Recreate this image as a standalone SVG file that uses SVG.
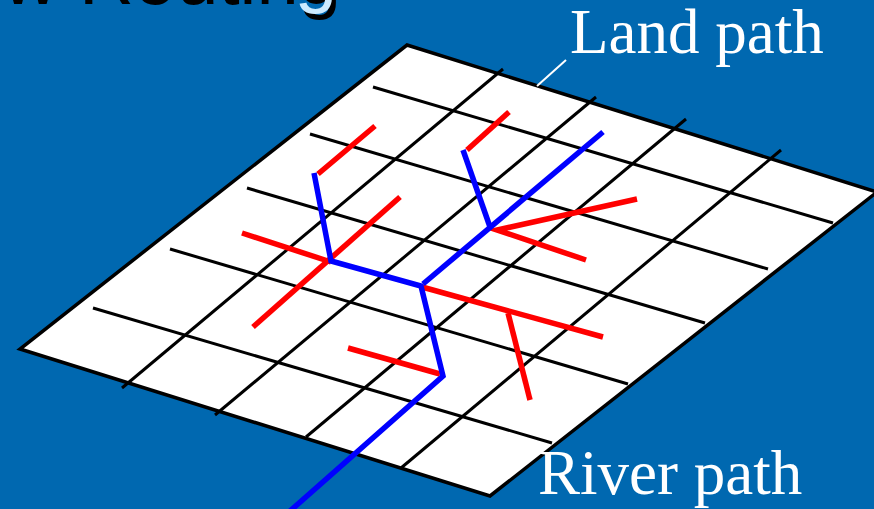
<svg xmlns="http://www.w3.org/2000/svg" width="874" height="509" viewBox="0 0 874 509">
<style>
.grid{stroke:#000;stroke-width:3;fill:none}
.land{stroke:#FF0000;stroke-width:5.5;fill:none}
.river{stroke:#0000FF;stroke-width:5.5;fill:none;stroke-linejoin:miter}
.lbl{font-family:"Liberation Serif","Times New Roman",serif;font-size:63px;fill:#FFFFFF}
.title{font-family:"Liberation Sans",Arial,sans-serif;font-size:76px}
</style>
<rect x="0" y="0" width="874" height="509" fill="#0068B0"/>
<g id="title">
<text class="title" x="341" y="4" text-anchor="end" fill="#000">Flow Routing</text>
<text class="title" x="337" y="-2" text-anchor="end" fill="#CCEBFF">Flow Routing</text>
</g>
<g id="plane">
<polygon points="407,45 877,192 490,496 20,349" fill="#FFFFFF" stroke="#000" stroke-width="3.5" stroke-linejoin="miter"/>
<g class="grid">
<line x1="373" y1="87" x2="833" y2="223"/>
<line x1="310" y1="134" x2="768" y2="269"/>
<line x1="247" y1="188" x2="705" y2="323"/>
<line x1="170" y1="249" x2="628" y2="384"/>
<line x1="93" y1="308" x2="552" y2="443"/>
<line x1="503" y1="69" x2="122" y2="388"/>
<line x1="596" y1="97" x2="215" y2="415"/>
<line x1="686" y1="119" x2="306" y2="437"/>
<line x1="781" y1="150" x2="401" y2="468"/>
</g>
</g>
<g id="connectors">
<g id="land-paths" class="land">
<line x1="375" y1="126" x2="318" y2="174"/>
<line x1="400" y1="197" x2="253" y2="327"/>
<line x1="242" y1="233" x2="331" y2="262"/>
<line x1="422" y1="287" x2="603" y2="337"/>
<line x1="508" y1="313" x2="530" y2="400"/>
<line x1="509" y1="112" x2="467" y2="150"/>
<polyline points="637,199 497,230 586,260"/>
<line x1="348" y1="348" x2="440" y2="374"/>
</g>
<g id="river-paths" class="river">
<polyline points="314,173 331,261 421,286 443,376 290,511"/>
<line x1="423" y1="284" x2="603" y2="132"/>
<line x1="463" y1="150" x2="490" y2="227"/>
</g>
<line x1="566" y1="60" x2="537" y2="86" stroke="#FFFFFF" stroke-width="2"/>
</g>
<g id="label-land">
<text class="lbl" x="570" y="53">Land path</text>
</g>
<g id="label-river">
<text class="lbl" x="538" y="494">River path</text>
</g>
</svg>
